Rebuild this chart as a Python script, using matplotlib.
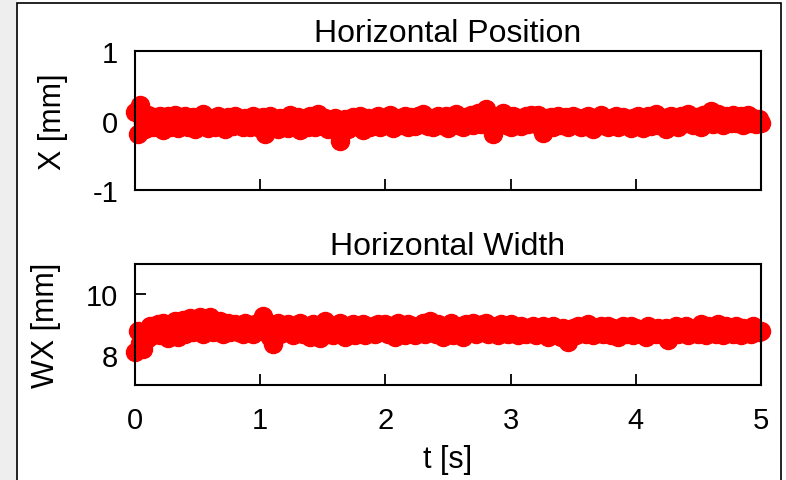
import numpy as np
import matplotlib
matplotlib.use('Agg')
import matplotlib.pyplot as plt
from matplotlib.patches import Rectangle

plt.rcParams['font.family'] = ['Liberation Sans', 'DejaVu Sans']
plt.rcParams['axes.unicode_minus'] = False
plt.rcParams['xtick.labelsize'] = 21
plt.rcParams['ytick.labelsize'] = 21

# sampling step of the recorded signals [s]
dt = 0.02

# horizontal beam position [mm]
x_pos = [
    0.12, -0.20, 0.22, -0.04, -0.12, 0.08, -0.02, -0.10, 0.05, -0.06,
    0.07, -0.13, 0.01, 0.06, -0.09, -0.03, 0.08, -0.11, 0.02, -0.05,
    0.06, -0.10, -0.01, 0.05, -0.12, 0.03, -0.07, 0.09, -0.04, -0.11,
    0.04, -0.02, -0.09, 0.07, -0.06, 0.01, -0.12, 0.05, -0.03, -0.08,
    0.07, -0.05, 0.02, -0.10, 0.04, -0.01, -0.09, 0.06, -0.06, 0.00,
    -0.11, 0.05, -0.20, -0.03, 0.06, -0.08, 0.02, -0.12, 0.04, -0.05,
    0.02, -0.11, 0.08, -0.03, -0.07, 0.05, -0.13, 0.00, 0.03, -0.09,
    0.06, -0.04, -0.10, 0.10, -0.02, -0.08, 0.04, -0.12, 0.01, -0.06,
    0.03, -0.15, -0.29, -0.05, 0.02, -0.12, -0.03, 0.05, -0.08, -0.01,
    0.06, -0.14, -0.04, 0.04, -0.10, 0.01, -0.06, 0.07, -0.09, -0.02,
    0.03, -0.07, 0.08, -0.11, -0.01, 0.04, -0.06, 0.02, 0.07, -0.09,
    0.05, -0.03, -0.08, 0.06, -0.05, 0.10, -0.02, -0.08, 0.04, -0.10,
    0.02, 0.07, -0.07, -0.01, 0.06, -0.11, 0.03, -0.04, 0.09, -0.06,
    0.01, -0.10, 0.05, -0.03, 0.08, -0.07, 0.02, 0.11, -0.05, -0.01,
    0.17, 0.04, -0.04, -0.20, -0.08, 0.05, -0.02, 0.11, -0.06, 0.03,
    -0.10, 0.07, -0.03, 0.04, -0.08, 0.01, 0.06, -0.05, 0.08, -0.02,
    -0.05, 0.08, -0.10, -0.18, 0.03, -0.06, 0.05, -0.09, 0.00, 0.06,
    -0.07, 0.02, 0.05, -0.10, -0.02, 0.07, -0.05, 0.03, -0.09, 0.04,
    -0.08, 0.07, -0.03, -0.12, 0.04, -0.01, 0.08, -0.06, 0.02, -0.10,
    0.03, -0.04, 0.06, -0.09, 0.00, 0.05, -0.07, 0.02, -0.11, 0.04,
    -0.05, 0.06, -0.02, -0.11, 0.02, 0.07, -0.08, 0.00, 0.09, -0.06,
    0.04, -0.03, -0.12, 0.05, 0.07, -0.04, 0.01, -0.09, 0.06, -0.02,
    -0.04, 0.10, 0.02, -0.07, 0.05, -0.02, -0.09, 0.08, 0.03, -0.03,
    0.13, -0.05, 0.06, 0.09, -0.02, -0.06, 0.07, 0.02, -0.04, 0.08,
    -0.04, 0.05, 0.07, -0.06, 0.01, 0.08, -0.03, 0.04, -0.05, 0.02,
    -0.03,
]

# horizontal beam width [mm]
wx = [
    8.10, 8.80, 8.40, 8.20, 8.75, 8.55, 8.95, 8.65, 8.85, 9.00,
    8.65, 9.05, 8.80, 8.55, 9.00, 8.75, 9.10, 8.60, 8.90, 9.15,
    8.70, 8.95, 9.20, 8.75, 9.05, 8.80, 9.25, 8.70, 9.10, 8.90,
    9.25, 8.75, 9.00, 8.80, 9.10, 8.70, 8.95, 9.05, 8.75, 8.90,
    9.00, 8.75, 8.90, 8.70, 9.05, 8.80, 8.95, 8.70, 9.00, 8.85,
    8.90, 9.27, 8.75, 9.05, 8.60, 8.37, 8.85, 9.05, 8.70, 8.95,
    8.75, 9.00, 8.85, 8.65, 8.95, 8.75, 9.05, 8.70, 8.90, 8.80,
    8.60, 9.00, 8.75, 8.90, 8.55, 8.85, 9.10, 8.70, 8.95, 8.65,
    8.95, 8.75, 9.05, 8.70, 8.60, 8.90, 8.80, 9.00, 8.65, 8.95,
    8.75, 9.00, 8.65, 8.90, 8.80, 8.95, 8.70, 9.00, 8.80, 8.90,
    9.00, 8.70, 8.95, 8.80, 8.60, 9.05, 8.75, 8.95, 8.65, 9.00,
    8.75, 8.95, 8.65, 8.90, 8.80, 9.05, 8.70, 8.90, 9.10, 8.75,
    8.70, 9.00, 8.80, 8.60, 8.95, 8.75, 9.05, 8.65, 8.90, 8.80,
    8.95, 8.60, 9.00, 8.75, 8.90, 9.05, 8.70, 8.95, 8.80, 9.00,
    9.05, 8.70, 8.90, 8.80, 8.95, 8.65, 9.00, 8.75, 8.90, 8.70,
    9.00, 8.75, 8.90, 8.65, 8.95, 8.80, 8.70, 8.90, 8.75, 8.95,
    8.65, 8.90, 8.75, 8.95, 8.70, 8.60, 8.85, 8.95, 8.70, 8.85,
    8.60, 8.90, 8.75, 8.43, 8.80, 8.90, 8.65, 8.95, 8.75, 8.85,
    8.70, 9.00, 8.80, 8.65, 8.90, 8.75, 8.95, 8.70, 8.85, 8.95,
    8.65, 8.90, 8.75, 8.60, 8.85, 8.95, 8.70, 8.80, 8.95, 8.65,
    8.90, 8.75, 8.70, 8.85, 8.60, 8.95, 8.75, 8.85, 8.70, 8.90,
    8.80, 8.65, 8.90, 8.50, 8.85, 8.75, 8.95, 8.70, 8.85, 8.80,
    8.95, 8.65, 8.85, 8.75, 8.90, 8.70, 9.00, 8.80, 8.65, 8.95,
    8.75, 8.90, 8.70, 9.00, 8.80, 8.65, 8.95, 8.75, 8.90, 8.70,
    8.95, 8.80, 8.65, 8.90, 8.75, 8.85, 8.70, 8.95, 8.80, 8.75,
    8.80,
]

t = np.round(np.arange(len(x_pos)) * dt, 3)

fig = plt.figure(figsize=(7.86, 4.81), dpi=100, facecolor='white')
# grey strip left of the frame + frame itself
fig.patches.append(Rectangle((0, 0), 17 / 786, 1, transform=fig.transFigure,
                             facecolor='#eeeeee', edgecolor='none', zorder=0))
fig.patches.append(Rectangle((17 / 786, -0.01), 764 / 786, 1 - 4 / 481 + 0.01,
                             transform=fig.transFigure, facecolor='white',
                             edgecolor='black', lw=1.2, zorder=0))

ax1 = fig.add_axes([0.1718, 0.6029, 0.7964, 0.289])
ax2 = fig.add_axes([0.1718, 0.1975, 0.7964, 0.2516])

for ax in (ax1, ax2):
    ax.set_zorder(2)
    for s in ax.spines.values():
        s.set_linewidth(1.5)
    ax.tick_params(direction='in', length=8, width=1.3, pad=12)
    ax.set_xlim(0, 5)
    ax.set_xticks([0, 1, 2, 3, 4, 5])

ax1.plot(t, x_pos, 'o', color='#ff0000', ms=13, clip_on=False)
ax1.set_ylim(-1, 1)
ax1.set_yticks([-1, 0, 1])
ax1.tick_params(axis='x', labelbottom=False)
ax1.set_ylabel('X [mm]', fontsize=22, labelpad=18)
ax1.set_title('Horizontal Position', fontsize=23, pad=7)

ax2.plot(t, wx, 'o', color='#ff0000', ms=13, clip_on=False)
ax2.set_ylim(7, 11)
ax2.set_yticks([8, 10])
ax2.tick_params(axis='x', pad=15)
ax2.set_ylabel('WX [mm]', fontsize=22, labelpad=18)
ax2.set_xlabel('t [s]', fontsize=22, labelpad=7)
ax2.set_title('Horizontal Width', fontsize=23, pad=7)

fig.savefig('out.png', dpi=100, facecolor=fig.get_facecolor())
